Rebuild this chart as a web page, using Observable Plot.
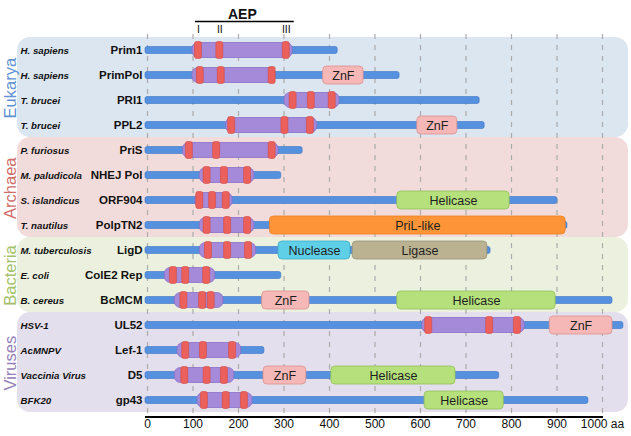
<!DOCTYPE html>
<html><head><meta charset="utf-8">
<script src="https://cdn.jsdelivr.net/npm/d3@7"></script>
<script src="https://cdn.jsdelivr.net/npm/@observablehq/plot@0.6"></script>
<style>body{margin:0;background:#fff;} svg{display:block;}</style>
</head><body><div id="chart"></div>
<script>
const proteins = ["Prim1","PrimPol","PRI1","PPL2","PriS","NHEJ Pol","ORF904","PolpTN2","LigD","ColE2 Rep","BcMCM","UL52","Lef-1","D5","gp43"];
const species = ["H. sapiens","H. sapiens","T. brucei","T. brucei","P. furiosus","M. paludicola","S. islandicus","T. nautilus","M. tuberculosis","E. coli","B. cereus","HSV-1","AcMNPV","Vaccinia Virus","BFK20"];
const groupOf = ["Eukarya","Eukarya","Eukarya","Eukarya","Archaea","Archaea","Archaea","Archaea","Bacteria","Bacteria","Bacteria","Viruses","Viruses","Viruses","Viruses"];
const lengths = [418, 554, 730, 741, 341, 294, 901, 923, 754, 294, 1022, 1046, 257, 773, 969];
const aepStart = [99, 99, 301, 173, 78, 115, 105, 115, 115, 38, 60, 604, 66, 60, 110];
const aepEnd = [319, 281, 422, 373, 288, 235, 187, 235, 239, 149, 167, 829, 206, 191, 231];
const motifs = [[112,159,305],[116,162,274],[320,360,406],[185,302,358],[92,152,274],[131,169,220],[115,143,173],[131,176,220],[134,176,222],[57,84,130],[80,121,140],[618,752,813],[84,123,187],[82,131,169],[125,173,213]];

const domainProtein = ["PrimPol","PPL2","ORF904","PolpTN2","LigD","LigD","BcMCM","BcMCM","UL52","D5","D5","gp43"];
const domainName = ["ZnF","ZnF","Helicase","PriL-like","Nuclease","Ligase","ZnF","Helicase","ZnF","ZnF","Helicase","Helicase"];
const domainStart = [386, 593, 549, 269, 288, 451, 252, 549, 884, 255, 404, 609];
const domainEnd = [475, 681, 796, 919, 446, 747, 356, 897, 1022, 349, 677, 783];

const groupNames = ["Eukarya","Archaea","Bacteria","Viruses"];
const groupFill = ["#dce6f1","#f2dcdb","#ebf1de","#e4dfec"];
const groupLabelColor = ["#5f93d3","#cf6d6a","#a3c26a","#9580b8"];

const domainFill = {"ZnF":"#f6b8b7","Helicase":"#b5e07c","PriL-like":"#fd9538","Nuclease":"#5fcfe8","Ligase":"#bab291"};
const domainStroke = {"ZnF":"#dc9190","Helicase":"#92c05b","PriL-like":"#f07f22","Nuclease":"#3cafcb","Ligase":"#9b9273"};

const aepLabel = "AEP";
const aepNumerals = ["I","II","III"];
const tickValues = [0,100,200,300,400,500,600,700,800,900,1000];
const unit = "aa";

const rows = proteins.map((p,i)=>({protein:p, species:species[i], length:lengths[i], aepStart:aepStart[i], aepEnd:aepEnd[i]}));
const motifRows = proteins.flatMap((p,i)=>motifs[i].map(m=>({protein:p, pos:m})));
const doms = domainProtein.map((p,i)=>({protein:p, name:domainName[i], start:domainStart[i], end:domainEnd[i]}));
const panels = groupNames.map((g,k)=>{
  const idx = proteins.map((p,i)=>i).filter(i=>groupOf[i]===g);
  return {group:g, first:proteins[idx[0]], last:proteins[idx[idx.length-1]], n:idx.length,
          mid:proteins[idx[Math.floor((idx.length-1)/2)]], fill:groupFill[k], label:groupLabelColor[k]};
});
const numerals = motifs[0].map((m,i)=>({pos:m, text:aepNumerals[i]}));
const aepSpan = [{x1:motifs[0][0], x2:motifs[0][2], mid:(motifs[0][0]+motifs[0][2])/2}];

const ff = "Liberation Sans, Arial, Helvetica, sans-serif";
const chart = Plot.plot({
  width: 631, height: 436,
  marginLeft: 147, marginRight: 29, marginTop: 31, marginBottom: 18,
  style: {fontFamily: ff, background: "white", overflow: "visible"},
  x: {domain: [0, 1000], axis: null},
  y: {type: "point", domain: proteins, padding: 0.63, axis: null},
  color: {type: "identity"},
  marks: [
    Plot.rect(panels, {y1: "first", y2: "last", fill: "fill", rx: 13, insetTop: -13, insetBottom: -12, insetLeft: -130, insetRight: -26}),
    Plot.ruleX(tickValues, {x: d => d, stroke: "#ababab", strokeWidth: 1.2, strokeDasharray: "5,6", insetTop: 3}),
    Plot.rect(rows, {x1: 0, x2: "length", y1: "protein", y2: "protein", insetTop: -3.5, insetBottom: -3.5, insetLeft: -2, rx: 2, fill: "#5591df", stroke: "#3d73c4", strokeWidth: 0.6}),
    Plot.rect(rows, {x1: "aepStart", x2: "aepEnd", y1: "protein", y2: "protein", insetTop: -7.5, insetBottom: -7.5, rx: 6, fill: "#a58ad9", stroke: "#8a6ec8", strokeWidth: 0.8}),
    Plot.rect(motifRows, {x1: "pos", x2: "pos", y1: "protein", y2: "protein", insetTop: -8.5, insetBottom: -8.5, insetLeft: -3.5, insetRight: -3.5, rx: 2, fill: "#ec605b", stroke: "#d04b46", strokeWidth: 0.6}),
    Plot.rect(doms, {x1: "start", x2: "end", y1: "protein", y2: "protein", insetTop: -9, insetBottom: -9, rx: 4, fill: d => domainFill[d.name], stroke: d => domainStroke[d.name], strokeWidth: 0.8}),
    Plot.text(doms, {x: d => (d.start + d.end) / 2, y: "protein", text: "name", fontSize: 12.5, fill: "#1e1e1e"}),
    Plot.text(rows, {y: "protein", text: "species", frameAnchor: "left", dx: -127, textAnchor: "start", fontStyle: "italic", fontWeight: "bold", fontSize: 9.7, fill: "#111"}),
    Plot.text(rows, {y: "protein", text: "protein", frameAnchor: "left", dx: -5, textAnchor: "end", fontWeight: "bold", fontSize: 11.5, fill: "#111"}),
    Plot.text(panels.filter(d => d.n % 2 === 0), {y: "mid", text: "group", fill: "label", rotate: -90, frameAnchor: "left", textAnchor: "middle", dx: -137, dy: 12.7, fontSize: 16.5}),
    Plot.text(panels.filter(d => d.n % 2 === 1), {y: "mid", text: "group", fill: "label", rotate: -90, frameAnchor: "left", textAnchor: "middle", dx: -137, fontSize: 16.5}),
    Plot.ruleY(aepSpan, {y: () => proteins[0], x1: "x1", x2: "x2", dy: -29, stroke: "#000", strokeWidth: 1.3, insetLeft: -3, insetRight: -8}),
    Plot.text(aepSpan, {x: "mid", y: () => proteins[0], text: () => aepLabel, dy: -36, fontWeight: "bold", fontSize: 14, fill: "#111"}),
    Plot.text(numerals, {x: "pos", y: () => proteins[0], text: "text", dy: -21, fontSize: 10.5, fill: "#111"}),
    Plot.ruleY([proteins[proteins.length - 1]], {y: d => d, dy: 16.5, stroke: "#000", strokeWidth: 2, insetLeft: -2, insetRight: -1}),
    Plot.text(tickValues, {x: d => d, text: d => d === 1000 ? `${d} ${unit}` : String(d), frameAnchor: "bottom", dy: 9, fontSize: 12, fill: "#111"})
  ]
});
document.getElementById("chart").appendChild(chart);
</script>
</body></html>
